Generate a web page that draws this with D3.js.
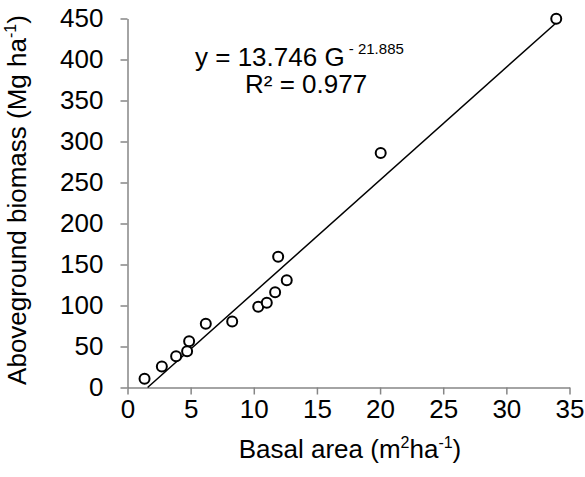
<!DOCTYPE html>
<html><head><meta charset="utf-8">
<script src="https://cdn.jsdelivr.net/npm/d3@7"></script>
<style>body{margin:0;background:#fff}svg{display:block}text{font-family:"Liberation Sans",Arial,sans-serif;fill:#000}</style>
</head><body>
<svg id="c" width="585" height="477"></svg>
<script>
const basalArea = [1.35, 2.72, 3.85, 4.72, 4.88, 6.2, 8.29, 10.35, 11.03, 11.69, 11.93, 12.61, 20.05, 33.95];
const biomass   = [10.6, 25.6, 38.2, 44.3, 56.5, 77.7, 80.5, 98.4, 103.3, 116.2, 159.4, 130.9, 286, 449.6];
const xTicks = [0, 5, 10, 15, 20, 25, 30, 35];
const yTicks = [0, 50, 100, 150, 200, 250, 300, 350, 400, 450];
const slope = 13.746, intercept = -21.885;
const fitRange = [-intercept / slope, 34];

const svg = d3.select("#c");
const x = d3.scaleLinear().domain([0, 35]).range([127.5, 569.5]);
const y = d3.scaleLinear().domain([0, 450]).range([387.5, 18.5]);
const axisColor = "#868686";
const fs = 26;

const xa = svg.append("g").attr("transform", `translate(0,${y(0)})`)
  .call(d3.axisBottom(x).tickValues(xTicks).tickSize(7).tickSizeOuter(0).tickPadding(5));
const ya = svg.append("g").attr("transform", `translate(${x(0)},0)`)
  .call(d3.axisLeft(y).tickValues(yTicks).tickSize(7).tickSizeOuter(0).tickPadding(17));
[xa, ya].forEach(a => {
  a.select(".domain").attr("stroke", axisColor).attr("stroke-width", 1.5);
  a.selectAll(".tick line").attr("stroke", axisColor).attr("stroke-width", 1.5);
  a.selectAll(".tick text").attr("font-size", fs).attr("font-family", "Liberation Sans, Arial, sans-serif").attr("fill", "#000");
});

svg.append("line")
  .attr("x1", x(fitRange[0])).attr("y1", y(slope * fitRange[0] + intercept))
  .attr("x2", x(fitRange[1])).attr("y2", y(slope * fitRange[1] + intercept))
  .attr("stroke", "#000").attr("stroke-width", 1.5);

svg.append("g").selectAll("circle").data(basalArea.map((d, i) => [d, biomass[i]])).join("circle")
  .attr("cx", d => x(d[0])).attr("cy", d => y(d[1])).attr("r", 5)
  .attr("fill", "#fff").attr("stroke", "#000").attr("stroke-width", 2);

// equation
const eq = svg.append("text").attr("x", 195).attr("y", 66).attr("font-size", fs);
eq.append("tspan").text("y = 13.746 G");
eq.append("tspan").attr("font-size", 15).attr("dy", -12).attr("xml:space", "preserve").text(" - 21.885");
svg.append("text").attr("x", 245).attr("y", 93).attr("font-size", fs).text("R² = 0.977");

// x title
const xt = svg.append("text").attr("x", 350).attr("y", 458).attr("text-anchor", "middle").attr("font-size", fs);
xt.append("tspan").text("Basal area (m");
xt.append("tspan").attr("font-size", 16).attr("dy", -10).text("2");
xt.append("tspan").attr("dy", 10).text("ha");
xt.append("tspan").attr("font-size", 16).attr("dy", -10).text("-1");
xt.append("tspan").attr("dy", 10).text(")");

// y title
const yt = svg.append("text").attr("transform", "translate(26,200) rotate(-90)").attr("text-anchor", "middle").attr("font-size", fs);
yt.append("tspan").text("Aboveground biomass (Mg ha");
yt.append("tspan").attr("font-size", 16).attr("dy", -10).text("-1");
yt.append("tspan").attr("dy", 10).text(")");
</script>
</body></html>
